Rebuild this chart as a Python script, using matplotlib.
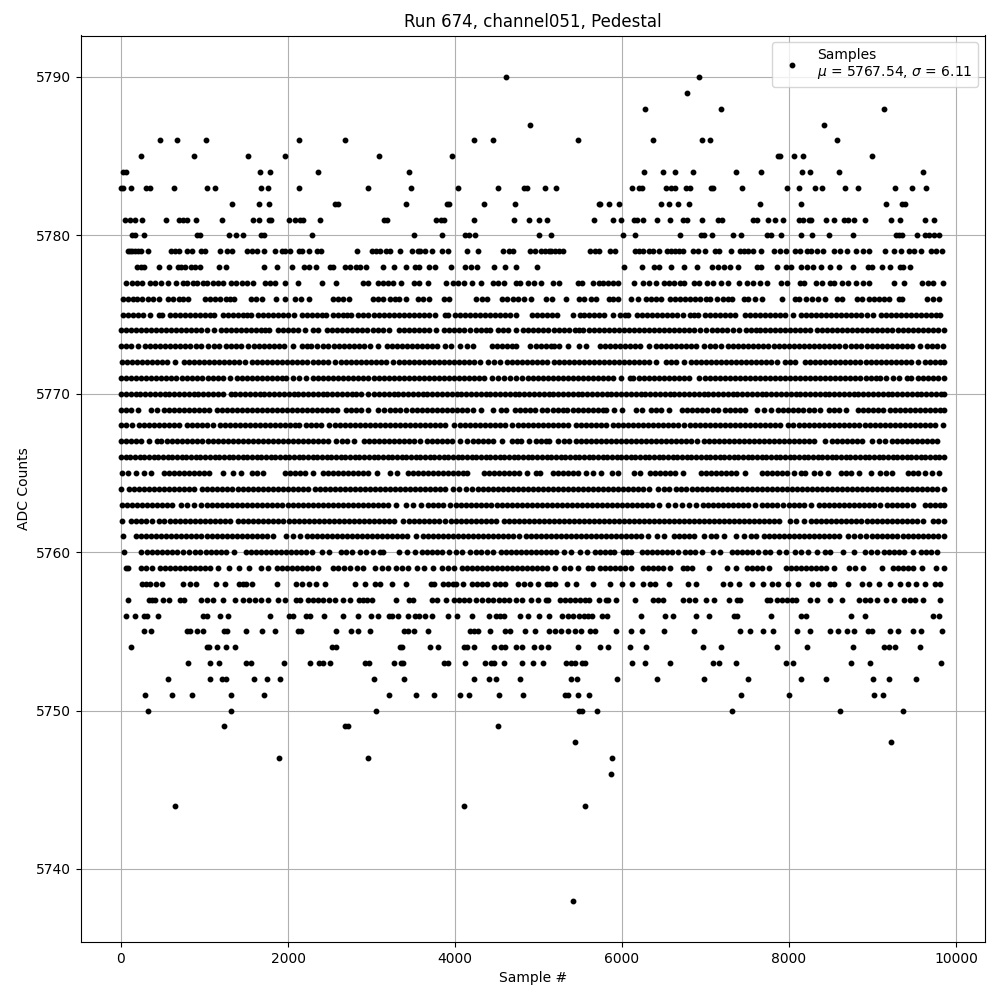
import matplotlib
matplotlib.use("Agg")
import matplotlib.pyplot as plt

title = "Run 674, channel051, Pedestal"
legend_label = "Samples\n$\\mu$ = 5767.54, $\\sigma$ = 6.11"

s5790 = [4616, 6924]
s5789 = [6780]
s5788 = [6276, 7188, 9132]
s5787 = [4904, 8424]
s5786 = [464, 668, 1016, 2132, 2684, 4232, 4460, 5472, 6372, 6960, 7056, 8580]
s5785 = [236, 872, 1520, 1964, 3092, 3968, 7868, 7896, 8064, 8172, 8988]
s5784 = [24, 56, 1664, 1784, 2360, 3452, 6264, 6492, 6636, 6852, 7368, 7668, 8160, 8256, 8604, 9600]
s5783 = [0, 20, 116, 296, 344, 632, 1028, 1124, 1676, 1760, 2128, 2960, 3476, 4040, 4520, 4832, 4868, 5076, 5208, 6120, 6204, 6240, 6528, 6588, 6636, 6768, 6816, 7068, 7092, 7440, 7980, 8124, 8316, 8400, 8676, 8832, 9264, 9468, 9636]
s5782 = [1328, 1652, 1772, 2564, 2600, 3416, 3908, 3932, 4352, 4724, 5724, 5736, 5844, 5964, 6468, 6564, 6672, 6804, 7656, 8148, 9156, 9348, 9384]
s5781 = [44, 104, 164, 248, 536, 692, 740, 788, 896, 1208, 1580, 1652, 1772, 1796, 2012, 2084, 2144, 2180, 2384, 3152, 3188, 3776, 3836, 3872, 4232, 4712, 4892, 5000, 5100, 5664, 5892, 5988, 6144, 6180, 6252, 6420, 6576, 6732, 6780, 6960, 7152, 7200, 7572, 7620, 7752, 7836, 7932, 8124, 8172, 8244, 8268, 8448, 8544, 8664, 8712, 8784, 8904, 9216, 9324, 9624, 9732]
s5780 = [128, 164, 272, 908, 944, 1292, 1376, 1456, 1676, 1712, 2288, 3512, 3848, 4124, 4172, 4244, 5000, 5148, 6012, 6156, 6696, 6948, 6984, 7080, 7332, 7428, 7740, 7788, 7908, 8148, 8280, 8484, 8772, 9276, 9312, 9348, 9528, 9624, 9672, 9732, 9792]
s5779 = [80, 104, 128, 164, 200, 236, 320, 596, 644, 692, 788, 848, 956, 1004, 1184, 1268, 1328, 1508, 1568, 1628, 1712, 1844, 1928, 1964, 2024, 2132, 2168, 2252, 2348, 2396, 2828, 3008, 3056, 3104, 3176, 3224, 3344, 3488, 3560, 3584, 3644, 3728, 3848, 3920, 4140, 4280, 4580, 4652, 4700, 4904, 4952, 5024, 5072, 5120, 5144, 5192, 5240, 5288, 5616, 5676, 5724, 5856, 5916, 6156, 6204, 6252, 6324, 6372, 6444, 6540, 6588, 6636, 6684, 6732, 6852, 6912, 6996, 7116, 7164, 7308, 7416, 7464, 7512, 7572, 7668, 7824, 7896, 7968, 8076, 8136, 8220, 8268, 8340, 8412, 8544, 8616, 8700, 8808, 8880, 8952, 9144, 9252, 9336, 9432, 9492, 9576, 9696, 9756, 9828]
s5778 = [188, 236, 272, 452, 572, 680, 716, 764, 836, 884, 944, 1172, 1256, 1712, 1868, 2048, 2192, 2252, 2336, 2504, 2540, 2684, 2744, 2816, 2864, 2936, 3140, 3272, 3416, 3524, 3572, 3692, 3764, 3956, 4124, 4196, 4268, 4472, 4604, 4736, 4976, 6024, 6240, 6384, 6444, 6588, 6744, 6900, 7080, 7152, 7224, 7296, 7392, 7620, 7668, 7860, 7968, 8028, 8148, 8220, 8292, 8388, 8496, 8604, 8772, 8940, 8988, 9108, 9204, 9324, 9360, 9444]
s5777 = [56, 128, 188, 248, 344, 404, 476, 560, 656, 740, 788, 860, 908, 980, 1028, 1100, 1160, 1220, 1316, 1376, 1448, 1508, 1580, 1724, 1784, 1844, 1964, 2120, 2408, 2576, 2900, 2960, 3080, 3140, 3200, 3260, 3356, 3512, 3572, 3680, 3896, 3980, 4040, 4112, 4208, 4316, 4460, 4520, 4592, 4736, 4784, 4880, 4940, 5028, 5172, 5244, 5472, 5520, 5652, 5724, 5772, 5832, 5892, 5952, 6144, 6252, 6324, 6408, 6504, 6564, 6624, 6696, 6744, 6864, 6924, 7020, 7092, 7188, 7272, 7404, 7500, 7572, 7656, 7740, 7908, 7980, 8136, 8184, 8328, 8400, 8496, 8544, 8640, 8712, 8808, 8880, 8952, 9252, 9372, 9588, 9660, 9720, 9850]
s5776 = [28, 84, 140, 188, 248, 320, 380, 452, 568, 628, 692, 748, 800, 1000, 1060, 1120, 1188, 1252, 1308, 1352, 1560, 1620, 1688, 1860, 1960, 2088, 2152, 2252, 2540, 2600, 2660, 2732, 3020, 3080, 3140, 3220, 3280, 3328, 3408, 3560, 3612, 3688, 3872, 3928, 4248, 4328, 4388, 4568, 4628, 4700, 4760, 4828, 4912, 5088, 5160, 5324, 5480, 5544, 5632, 5684, 5844, 5892, 5956, 6112, 6192, 6292, 6352, 6412, 6472, 6572, 6632, 6692, 6752, 6812, 6872, 6932, 7000, 7052, 7132, 7204, 7272, 7312, 7460, 7512, 7592, 7672, 7912, 8072, 8124, 8200, 8280, 8352, 8432, 8572, 8632, 8812, 8872, 8952, 9012, 9072, 9132, 9200, 9312, 9352, 9652, 9724, 9792]
s5775 = [24, 84, 148, 204, 268, 348, 452, 496, 584, 644, 704, 764, 824, 884, 944, 1004, 1064, 1116, 1224, 1284, 1344, 1404, 1464, 1510, 1556, 1644, 1704, 1764, 1824, 1884, 1944, 2004, 2076, 2164, 2224, 2284, 2344, 2404, 2456, 2544, 2604, 2664, 2710, 2756, 2844, 2904, 2964, 3024, 3084, 3144, 3204, 3264, 3324, 3384, 3444, 3504, 3564, 3624, 3684, 3756, 3884, 3916, 4004, 4064, 4124, 4184, 4244, 4304, 4364, 4424, 4484, 4544, 4604, 4664, 4736, 4924, 4984, 5044, 5104, 5164, 5224, 5416, 5496, 5548, 5608, 5668, 5728, 5788, 5888, 5976, 6036, 6076, 6176, 6236, 6296, 6356, 6416, 6476, 6536, 6596, 6656, 6728, 6816, 6868, 6908, 6996, 7056, 7116, 7176, 7236, 7296, 7348, 7476, 7536, 7596, 7656, 7716, 7776, 7836, 7896, 7956, 8048, 8148, 8208, 8268, 8328, 8388, 8448, 8508, 8568, 8628, 8688, 8748, 8808, 8868, 8928, 9008, 9096, 9156, 9216, 9276, 9336, 9396, 9456, 9516, 9576, 9636, 9696, 9756, 9808]
s5774 = [0, 60, 124, 184, 244, 304, 364, 424, 484, 544, 604, 664, 724, 784, 844, 904, 964, 1024, 1108, 1192, 1252, 1312, 1372, 1432, 1492, 1552, 1612, 1672, 1724, 1776, 1884, 1944, 2004, 2064, 2124, 2204, 2304, 2364, 2472, 2532, 2592, 2652, 2712, 2772, 2832, 2892, 2952, 3012, 3072, 3132, 3204, 3324, 3384, 3444, 3504, 3564, 3624, 3684, 3776, 3864, 3924, 3984, 4044, 4104, 4176, 4252, 4312, 4372, 4416, 4516, 4576, 4636, 4736, 4816, 4876, 4936, 4996, 5056, 5108, 5188, 5248, 5308, 5368, 5436, 5484, 5528, 5608, 5668, 5728, 5788, 5848, 5908, 5968, 6028, 6088, 6148, 6208, 6268, 6328, 6388, 6448, 6508, 6568, 6628, 6688, 6748, 6808, 6868, 6928, 7008, 7076, 7136, 7196, 7256, 7328, 7404, 7484, 7544, 7604, 7648, 7716, 7776, 7836, 7896, 7956, 8016, 8076, 8136, 8196, 8248, 8336, 8396, 8456, 8516, 8576, 8636, 8696, 8756, 8816, 8876, 8936, 8996, 9056, 9116, 9176, 9236, 9300, 9368, 9428, 9488, 9548, 9608, 9668, 9728, 9788, 9856]
s5773 = [0, 60, 124, 204, 292, 352, 412, 472, 532, 592, 652, 712, 772, 832, 896, 964, 1036, 1112, 1176, 1252, 1312, 1372, 1432, 1516, 1592, 1652, 1712, 1772, 1832, 1892, 1952, 2056, 2164, 2224, 2276, 2344, 2416, 2476, 2556, 2616, 2676, 2736, 2796, 2856, 2916, 2976, 3076, 3184, 3244, 3304, 3364, 3424, 3484, 3544, 3604, 3664, 3724, 3784, 3876, 3956, 4056, 4144, 4216, 4444, 4504, 4564, 4624, 4684, 4736, 4904, 4964, 5024, 5084, 5144, 5188, 5248, 5348, 5484, 5568, 5736, 5796, 5856, 5916, 5976, 6036, 6096, 6156, 6216, 6328, 6404, 6464, 6524, 6584, 6644, 6704, 6764, 6824, 6884, 6976, 7048, 7108, 7188, 7268, 7328, 7388, 7448, 7508, 7568, 7628, 7688, 7748, 7816, 7876, 7936, 7996, 8056, 8116, 8176, 8236, 8296, 8356, 8416, 8476, 8536, 8596, 8668, 8744, 8804, 8860, 8936, 8996, 9056, 9116, 9176, 9236, 9296, 9356, 9416, 9476, 9568, 9656, 9716, 9776, 9848]
s5772 = [12, 72, 132, 192, 252, 312, 372, 432, 492, 552, 644, 752, 812, 872, 932, 992, 1052, 1112, 1172, 1232, 1292, 1352, 1412, 1484, 1572, 1632, 1692, 1752, 1812, 1872, 1932, 1992, 2052, 2112, 2172, 2232, 2296, 2364, 2424, 2484, 2564, 2636, 2696, 2756, 2816, 2876, 2936, 2996, 3056, 3116, 3176, 3256, 3332, 3392, 3452, 3512, 3572, 3632, 3692, 3752, 3812, 3872, 3932, 3992, 4052, 4112, 4172, 4232, 4296, 4396, 4464, 4536, 4624, 4684, 4744, 4804, 4864, 4924, 4984, 5044, 5104, 5180, 5244, 5304, 5364, 5424, 5484, 5544, 5604, 5664, 5724, 5784, 5844, 5904, 5964, 6024, 6084, 6144, 6204, 6264, 6324, 6408, 6524, 6584, 6644, 6748, 6824, 6884, 6944, 7004, 7064, 7124, 7184, 7244, 7304, 7364, 7424, 7484, 7544, 7604, 7664, 7724, 7784, 7852, 7956, 8016, 8076, 8188, 8256, 8316, 8376, 8436, 8496, 8556, 8616, 8676, 8736, 8796, 8856, 8916, 8976, 9036, 9096, 9156, 9216, 9276, 9336, 9396, 9456, 9548, 9624, 9684, 9744, 9804, 9860]
s5771 = [0, 60, 120, 180, 240, 300, 360, 420, 480, 540, 600, 660, 728, 796, 856, 916, 976, 1036, 1096, 1156, 1216, 1308, 1384, 1444, 1504, 1564, 1624, 1684, 1744, 1804, 1864, 1924, 1976, 2056, 2136, 2216, 2304, 2364, 2424, 2484, 2544, 2604, 2664, 2724, 2784, 2844, 2904, 2964, 3024, 3084, 3144, 3204, 3264, 3324, 3384, 3444, 3504, 3564, 3624, 3684, 3744, 3804, 3864, 3924, 3984, 4044, 4104, 4164, 4224, 4284, 4348, 4444, 4516, 4588, 4664, 4736, 4804, 4876, 4936, 4996, 5056, 5116, 5176, 5236, 5296, 5356, 5416, 5476, 5536, 5596, 5656, 5716, 5776, 5836, 5896, 5988, 6096, 6128, 6204, 6264, 6324, 6384, 6444, 6504, 6564, 6624, 6684, 6744, 6804, 6916, 6996, 7056, 7116, 7176, 7236, 7296, 7356, 7416, 7476, 7536, 7596, 7656, 7716, 7776, 7836, 7896, 7956, 8016, 8076, 8136, 8196, 8256, 8316, 8376, 8436, 8496, 8556, 8616, 8676, 8736, 8796, 8856, 8916, 8976, 9036, 9088, 9164, 9240, 9316, 9408, 9460, 9548, 9608, 9668, 9728, 9788, 9856]
s5770 = [0, 58, 116, 174, 232, 290, 348, 406, 464, 522, 580, 638, 696, 754, 812, 870, 928, 986, 1044, 1102, 1160, 1216, 1312, 1370, 1428, 1486, 1544, 1602, 1660, 1718, 1776, 1834, 1892, 1950, 2008, 2066, 2124, 2182, 2240, 2298, 2356, 2414, 2472, 2530, 2588, 2646, 2704, 2762, 2820, 2878, 2956, 3032, 3090, 3148, 3206, 3264, 3322, 3380, 3438, 3496, 3554, 3612, 3670, 3728, 3786, 3844, 3902, 3960, 4018, 4076, 4134, 4192, 4250, 4308, 4366, 4424, 4482, 4540, 4598, 4656, 4714, 4772, 4830, 4888, 4946, 5004, 5062, 5120, 5178, 5236, 5294, 5352, 5410, 5468, 5526, 5584, 5642, 5700, 5758, 5816, 5874, 5932, 5990, 6048, 6106, 6164, 6222, 6280, 6338, 6396, 6454, 6512, 6570, 6628, 6686, 6744, 6802, 6860, 6918, 6976, 7034, 7092, 7150, 7208, 7266, 7324, 7382, 7440, 7498, 7556, 7614, 7672, 7730, 7788, 7846, 7904, 7962, 8020, 8078, 8136, 8194, 8252, 8310, 8368, 8426, 8484, 8542, 8600, 8658, 8716, 8774, 8832, 8890, 8948, 9006, 9064, 9122, 9180, 9238, 9296, 9354, 9412, 9470, 9528, 9586, 9644, 9702, 9760, 9818, 9856]
s5769 = [0, 60, 124, 204, 356, 436, 512, 572, 632, 692, 752, 812, 872, 932, 992, 1056, 1152, 1212, 1272, 1332, 1392, 1452, 1512, 1572, 1632, 1692, 1752, 1812, 1872, 1932, 1992, 2052, 2112, 2172, 2232, 2292, 2352, 2412, 2472, 2532, 2588, 2692, 2752, 2812, 2872, 2964, 3076, 3148, 3224, 3284, 3344, 3408, 3484, 3544, 3604, 3664, 3724, 3784, 3844, 3904, 3964, 4024, 4084, 4144, 4216, 4308, 4456, 4556, 4616, 4716, 4776, 4836, 4896, 4956, 5044, 5100, 5168, 5228, 5288, 5340, 5412, 5472, 5532, 5592, 5652, 5712, 5772, 5808, 5908, 5996, 6164, 6236, 6344, 6404, 6464, 6568, 6716, 6776, 6836, 6896, 6956, 7016, 7088, 7148, 7228, 7288, 7348, 7408, 7468, 7616, 7700, 7788, 7868, 7928, 7988, 8048, 8108, 8168, 8244, 8304, 8368, 8476, 8536, 8596, 8688, 8828, 8888, 8948, 9008, 9068, 9128, 9208, 9268, 9328, 9388, 9448, 9508, 9568, 9628, 9688, 9748, 9808, 9860]
s5768 = [4, 64, 136, 212, 272, 332, 392, 452, 512, 572, 632, 692, 788, 852, 912, 972, 1032, 1096, 1184, 1244, 1304, 1364, 1424, 1484, 1544, 1604, 1664, 1724, 1784, 1844, 1904, 1964, 2024, 2084, 2136, 2212, 2272, 2332, 2392, 2496, 2564, 2624, 2684, 2744, 2804, 2864, 2924, 2984, 3044, 3104, 3164, 3224, 3284, 3344, 3404, 3464, 3524, 3584, 3644, 3704, 3764, 3824, 3884, 3988, 4064, 4124, 4184, 4244, 4304, 4364, 4424, 4484, 4544, 4604, 4684, 4756, 4816, 4876, 4936, 4996, 5056, 5116, 5176, 5236, 5296, 5356, 5448, 5508, 5568, 5628, 5688, 5748, 5808, 5888, 5948, 6008, 6068, 6128, 6188, 6248, 6308, 6368, 6428, 6488, 6548, 6608, 6668, 6748, 6816, 6876, 6936, 6996, 7056, 7116, 7176, 7236, 7296, 7356, 7416, 7476, 7536, 7596, 7656, 7716, 7776, 7836, 7896, 7988, 8052, 8124, 8184, 8244, 8304, 8364, 8424, 8484, 8544, 8604, 8664, 8724, 8784, 8844, 8904, 8964, 9024, 9084, 9144, 9204, 9264, 9324, 9384, 9444, 9504, 9564, 9624, 9684, 9744, 9848]
s5767 = [4, 64, 124, 184, 244, 336, 432, 476, 556, 616, 676, 736, 796, 856, 916, 976, 1036, 1096, 1156, 1216, 1276, 1336, 1396, 1456, 1516, 1576, 1636, 1696, 1756, 1816, 1876, 1936, 1996, 2056, 2116, 2176, 2236, 2296, 2356, 2416, 2476, 2576, 2652, 2712, 2796, 2912, 2972, 3032, 3092, 3152, 3212, 3272, 3332, 3392, 3452, 3512, 3576, 3664, 3724, 3784, 3844, 3904, 3964, 4056, 4144, 4216, 4276, 4336, 4396, 4456, 4560, 4684, 4740, 4796, 4884, 4972, 5032, 5092, 5128, 5228, 5300, 5368, 5448, 5508, 5568, 5628, 5688, 5748, 5808, 5868, 5928, 5988, 6048, 6108, 6168, 6228, 6288, 6348, 6408, 6468, 6528, 6588, 6648, 6708, 6768, 6828, 6900, 6984, 7044, 7104, 7164, 7224, 7284, 7344, 7404, 7464, 7524, 7584, 7644, 7704, 7764, 7824, 7884, 7944, 8004, 8064, 8124, 8184, 8244, 8304, 8428, 8516, 8576, 8636, 8696, 8756, 8816, 8876, 8988, 9076, 9148, 9236, 9296, 9356, 9416, 9476, 9536, 9596, 9656, 9716, 9768]
s5766 = [0, 56, 112, 168, 224, 280, 336, 392, 448, 504, 560, 616, 672, 728, 784, 840, 896, 952, 1008, 1064, 1120, 1176, 1232, 1288, 1344, 1400, 1456, 1512, 1568, 1624, 1680, 1736, 1792, 1848, 1904, 1960, 2016, 2072, 2128, 2184, 2240, 2296, 2352, 2408, 2464, 2520, 2576, 2632, 2688, 2744, 2800, 2856, 2912, 2968, 3024, 3080, 3136, 3192, 3248, 3304, 3360, 3416, 3472, 3528, 3584, 3640, 3696, 3752, 3808, 3864, 3920, 3976, 4032, 4088, 4144, 4200, 4256, 4312, 4368, 4424, 4480, 4536, 4592, 4648, 4704, 4760, 4816, 4872, 4928, 4984, 5040, 5096, 5152, 5208, 5264, 5320, 5376, 5432, 5488, 5544, 5600, 5656, 5712, 5768, 5824, 5880, 5936, 5992, 6048, 6104, 6160, 6216, 6272, 6328, 6384, 6440, 6496, 6552, 6608, 6664, 6720, 6776, 6832, 6888, 6944, 7000, 7056, 7112, 7168, 7224, 7280, 7336, 7392, 7448, 7504, 7560, 7616, 7672, 7728, 7784, 7840, 7896, 7952, 8008, 8064, 8120, 8176, 8232, 8288, 8344, 8400, 8456, 8512, 8568, 8624, 8680, 8736, 8792, 8848, 8904, 8960, 9016, 9072, 9128, 9184, 9240, 9296, 9352, 9408, 9464, 9520, 9576, 9632, 9688, 9744, 9800, 9856]
s5765 = [12, 84, 184, 276, 364, 516, 576, 636, 696, 756, 816, 876, 936, 996, 1056, 1220, 1344, 1436, 1564, 1634, 1704, 1964, 2024, 2084, 2144, 2208, 2304, 2424, 2484, 2544, 2604, 2664, 2724, 2784, 2844, 2904, 2964, 3068, 3216, 3308, 3432, 3492, 3552, 3612, 3672, 3732, 3792, 3852, 3912, 3972, 4032, 4092, 4144, 4344, 4404, 4464, 4524, 4584, 4644, 4704, 4764, 4864, 4964, 5016, 5168, 5228, 5288, 5348, 5408, 5468, 5568, 5656, 5748, 5884, 5948, 6148, 6220, 6336, 6396, 6456, 6516, 6576, 6636, 6736, 6948, 7008, 7068, 7128, 7188, 7248, 7308, 7368, 7476, 7676, 7736, 7796, 7856, 7916, 7976, 8060, 8148, 8196, 8296, 8376, 8472, 8624, 8684, 8744, 8836, 8984, 9088, 9160, 9236, 9428, 9484, 9540, 9628, 9712, 9796]
s5764 = [0, 96, 156, 216, 276, 336, 396, 456, 516, 576, 636, 696, 756, 816, 876, 972, 1032, 1092, 1152, 1212, 1272, 1332, 1396, 1460, 1520, 1580, 1640, 1700, 1760, 1820, 1880, 1940, 2000, 2060, 2120, 2180, 2244, 2324, 2384, 2444, 2504, 2564, 2624, 2684, 2744, 2804, 2864, 2924, 2984, 3044, 3104, 3164, 3224, 3284, 3344, 3404, 3464, 3524, 3584, 3644, 3704, 3764, 3824, 3884, 3976, 4052, 4130, 4204, 4272, 4332, 4392, 4452, 4512, 4572, 4632, 4692, 4752, 4812, 4872, 4932, 4992, 5052, 5112, 5172, 5232, 5292, 5352, 5412, 5472, 5532, 5592, 5652, 5712, 5772, 5832, 5892, 5952, 6012, 6072, 6132, 6192, 6252, 6328, 6428, 6500, 6568, 6648, 6708, 6768, 6836, 6896, 6956, 7016, 7076, 7136, 7196, 7256, 7316, 7376, 7436, 7496, 7556, 7616, 7676, 7736, 7796, 7856, 7916, 7976, 8036, 8096, 8156, 8216, 8276, 8336, 8396, 8456, 8516, 8576, 8636, 8696, 8756, 8816, 8876, 8936, 8996, 9056, 9116, 9176, 9236, 9296, 9356, 9416, 9476, 9536, 9596, 9656, 9716, 9776, 9860]
s5763 = [12, 72, 132, 192, 252, 312, 372, 432, 492, 552, 612, 716, 796, 876, 956, 1024, 1084, 1144, 1204, 1264, 1324, 1384, 1444, 1504, 1564, 1624, 1684, 1744, 1804, 1864, 1924, 1996, 2064, 2124, 2184, 2244, 2304, 2364, 2424, 2484, 2544, 2604, 2664, 2724, 2784, 2836, 2896, 2956, 3016, 3076, 3136, 3196, 3296, 3412, 3500, 3588, 3676, 3736, 3796, 3856, 3936, 4012, 4072, 4132, 4192, 4252, 4312, 4372, 4436, 4504, 4564, 4624, 4684, 4744, 4804, 4864, 4924, 4984, 5044, 5104, 5164, 5224, 5284, 5344, 5404, 5464, 5524, 5584, 5644, 5704, 5764, 5824, 5884, 5944, 6004, 6064, 6124, 6184, 6244, 6304, 6364, 6448, 6556, 6636, 6716, 6800, 6888, 6968, 7028, 7088, 7148, 7208, 7268, 7328, 7388, 7448, 7508, 7588, 7676, 7736, 7796, 7856, 7928, 8004, 8064, 8124, 8184, 8260, 8356, 8416, 8476, 8536, 8596, 8656, 8716, 8776, 8836, 8896, 8956, 9016, 9088, 9176, 9236, 9296, 9356, 9416, 9488, 9624, 9684, 9744, 9804, 9860]
s5762 = [12, 116, 176, 236, 296, 368, 452, 516, 584, 644, 704, 764, 824, 884, 944, 1004, 1064, 1124, 1184, 1244, 1304, 1396, 1464, 1524, 1584, 1644, 1704, 1764, 1824, 1884, 1936, 2012, 2072, 2132, 2192, 2252, 2312, 2372, 2432, 2492, 2552, 2612, 2672, 2732, 2792, 2852, 2912, 2972, 3032, 3092, 3152, 3212, 3272, 3376, 3444, 3504, 3564, 3624, 3684, 3744, 3804, 3876, 3956, 4016, 4076, 4136, 4196, 4256, 4316, 4376, 4436, 4496, 4584, 4644, 4704, 4764, 4824, 4884, 4944, 5004, 5064, 5124, 5184, 5244, 5304, 5364, 5424, 5484, 5544, 5604, 5664, 5724, 5784, 5844, 5904, 5964, 6024, 6084, 6144, 6204, 6264, 6324, 6384, 6444, 6504, 6564, 6624, 6684, 6744, 6804, 6864, 6924, 6984, 7044, 7104, 7164, 7224, 7284, 7344, 7404, 7464, 7524, 7584, 7644, 7704, 7764, 7824, 7884, 8008, 8088, 8180, 8268, 8328, 8388, 8448, 8508, 8568, 8628, 8688, 8748, 8808, 8868, 8928, 8988, 9048, 9108, 9168, 9228, 9288, 9348, 9408, 9468, 9528, 9608, 9724, 9790, 9860]
s5761 = [20, 184, 244, 304, 364, 424, 484, 544, 604, 664, 724, 784, 844, 904, 964, 1024, 1084, 1144, 1204, 1264, 1324, 1384, 1444, 1504, 1564, 1624, 1684, 1744, 1816, 1972, 2060, 2148, 2224, 2284, 2344, 2404, 2464, 2524, 2584, 2644, 2704, 2764, 2824, 2884, 2944, 3004, 3064, 3124, 3184, 3244, 3304, 3364, 3424, 3536, 3616, 3676, 3736, 3796, 3856, 3916, 3976, 4036, 4096, 4156, 4216, 4276, 4336, 4396, 4456, 4516, 4576, 4636, 4696, 4764, 4852, 4912, 4972, 5032, 5092, 5152, 5212, 5272, 5332, 5392, 5452, 5512, 5572, 5632, 5692, 5752, 5812, 5872, 5932, 5992, 6052, 6112, 6172, 6232, 6308, 6416, 6508, 6624, 6684, 6744, 6804, 6864, 6976, 7064, 7120, 7224, 7364, 7460, 7548, 7608, 7700, 7760, 7820, 7880, 7940, 8000, 8060, 8120, 8180, 8240, 8300, 8360, 8420, 8480, 8540, 8600, 8708, 8784, 8856, 8916, 8996, 9056, 9116, 9176, 9236, 9288, 9368, 9428, 9488, 9548, 9608, 9668, 9728, 9788, 9860]
s5760 = [32, 240, 312, 372, 432, 492, 552, 612, 668, 744, 816, 892, 952, 1012, 1072, 1132, 1192, 1256, 1352, 1492, 1552, 1612, 1672, 1732, 1792, 1852, 1916, 1972, 2032, 2092, 2152, 2212, 2284, 2404, 2496, 2632, 2700, 2764, 2864, 2936, 3020, 3104, 3136, 3328, 3424, 3516, 3604, 3664, 3724, 3784, 3844, 3932, 4012, 4084, 4184, 4250, 4316, 4384, 4456, 4552, 4612, 4672, 4732, 4792, 4852, 4912, 4972, 5032, 5092, 5152, 5212, 5300, 5392, 5496, 5580, 5676, 5736, 5796, 5856, 5900, 6008, 6060, 6108, 6236, 6296, 6356, 6416, 6476, 6536, 6596, 6668, 6756, 6816, 6876, 6956, 7088, 7172, 7316, 7376, 7436, 7496, 7556, 7628, 7716, 7776, 7876, 7968, 8076, 8148, 8232, 8336, 8436, 8488, 8652, 8784, 8908, 8980, 9056, 9140, 9200, 9260, 9320, 9380, 9488, 9576, 9640, 9700, 9768]
s5759 = [56, 88, 244, 296, 368, 464, 524, 584, 644, 704, 764, 824, 884, 944, 1004, 1064, 1164, 1292, 1416, 1532, 1680, 1760, 1864, 1924, 1984, 2044, 2104, 2164, 2224, 2284, 2364, 2536, 2596, 2672, 2740, 2832, 2896, 3044, 3124, 3200, 3292, 3364, 3436, 3548, 3632, 3740, 3844, 3916, 3988, 4080, 4144, 4204, 4264, 4324, 4384, 4444, 4504, 4564, 4624, 4684, 4744, 4804, 4864, 4924, 4984, 5044, 5104, 5196, 5308, 5372, 5476, 5596, 5636, 5736, 5796, 5856, 5916, 5976, 6036, 6108, 6248, 6308, 6368, 6428, 6488, 6580, 6728, 6784, 6840, 7044, 7252, 7364, 7496, 7560, 7620, 7680, 7756, 7968, 8028, 8088, 8148, 8208, 8268, 8328, 8388, 8448, 8540, 8716, 8796, 8880, 9112, 9248, 9308, 9368, 9428, 9488, 9596, 9764, 9856]
s5758 = [252, 300, 348, 420, 488, 740, 828, 900, 1136, 1240, 1412, 1460, 1500, 1568, 1868, 2096, 2168, 2252, 2332, 2440, 2804, 2924, 3044, 3104, 3248, 3416, 3708, 3752, 3852, 3912, 3972, 4012, 4100, 4208, 4268, 4328, 4388, 4476, 4540, 4600, 4760, 4828, 4900, 4988, 5100, 5132, 5192, 5340, 5448, 5652, 5856, 6000, 6120, 6252, 6332, 6392, 6564, 6792, 6884, 7204, 7292, 7404, 7560, 7692, 7792, 7872, 7992, 8112, 8272, 8352, 8492, 8544, 8712, 8872, 8952, 9072, 9212, 9324, 9420, 9524, 9624, 9752, 9812]
s5757 = [88, 332, 368, 404, 500, 572, 704, 752, 956, 1028, 1100, 1220, 1364, 1460, 1532, 1604, 1676, 1760, 1880, 1964, 2096, 2144, 2240, 2300, 2360, 2420, 2492, 2564, 2660, 2744, 2852, 2900, 2948, 3008, 3296, 3452, 3500, 3728, 3788, 3896, 3992, 4052, 4112, 4172, 4256, 4328, 4400, 4460, 4532, 4592, 4652, 4736, 4808, 4916, 4988, 5084, 5108, 5252, 5312, 5372, 5432, 5492, 5552, 5604, 5724, 5804, 5832, 5928, 6152, 6372, 6432, 6492, 6732, 6800, 6872, 7000, 7100, 7284, 7372, 7412, 7732, 7772, 7860, 7912, 7972, 8032, 8084, 8252, 8332, 8496, 8640, 8844, 8912, 8972, 9052, 9156, 9252, 9380, 9444, 9512, 9604, 9804]
s5756 = [56, 164, 272, 308, 440, 980, 1028, 1184, 1280, 1784, 2012, 2060, 2216, 2264, 2432, 2660, 2840, 2996, 3080, 3212, 3248, 3320, 3440, 3524, 3572, 3644, 3728, 3920, 4028, 4208, 4412, 4496, 4544, 4592, 4784, 4880, 5000, 5124, 5276, 5352, 5412, 5484, 5540, 5592, 5644, 5764, 5824, 6232, 6520, 6612, 6888, 7044, 7340, 7372, 7784, 8140, 8204, 8748, 8912, 9724, 9792]
s5755 = [272, 356, 788, 824, 908, 980, 1232, 1268, 1496, 1688, 1844, 2120, 2156, 2576, 2756, 2840, 2980, 3392, 3440, 3512, 3680, 4184, 4232, 4280, 4424, 4604, 4664, 4844, 4956, 5120, 5192, 5272, 5352, 5432, 5512, 5612, 5672, 5924, 6112, 6240, 6504, 6864, 7416, 7536, 7684, 7812, 8096, 8252, 8496, 8592, 8692, 8784, 8940, 8996, 9204, 9300, 9480, 9584, 9828]
s5754 = [116, 1028, 1052, 1148, 1256, 1364, 2528, 2576, 3344, 3368, 3704, 3800, 4112, 4148, 4232, 4472, 4556, 4604, 4736, 4808, 4940, 5024, 5108, 5472, 5736, 5832, 6100, 6288, 6972, 7188, 7860, 8220, 8772, 9132, 9192, 9264, 9564]
s5753 = [800, 1064, 1172, 1496, 1556, 1952, 2264, 2372, 2420, 2504, 2924, 2972, 3272, 3356, 3380, 3872, 3920, 4124, 4364, 4436, 4472, 4592, 4808, 4932, 5052, 5328, 5392, 5436, 5520, 5556, 6120, 6276, 6576, 7092, 7164, 7368, 7968, 8052, 8748, 8964, 9816]
s5752 = [560, 1064, 1208, 1256, 1592, 1748, 1904, 3032, 3392, 4232, 4412, 4496, 4784, 5392, 5460, 5940, 6420, 6984, 7512, 8148, 8448, 9000, 9192, 9516]
s5751 = [284, 608, 848, 1316, 1712, 3212, 3536, 3752, 4064, 4172, 4532, 4820, 5312, 5352, 5472, 5604, 7428, 8004, 9012, 9120]
s5750 = [320, 1316, 3056, 5484, 5524, 5700, 7320, 8616, 9360]
s5749 = [1232, 2684, 2720, 4520]
s5748 = [5440, 9216]
s5747 = [1892, 2960, 5880]
s5746 = [5868]
s5744 = [644, 4112, 5556]
s5738 = [5413]

rows = {5790: s5790, 5789: s5789, 5788: s5788, 5787: s5787, 5786: s5786, 5785: s5785,
        5784: s5784, 5783: s5783, 5782: s5782, 5781: s5781, 5780: s5780, 5779: s5779,
        5778: s5778, 5777: s5777, 5776: s5776, 5775: s5775, 5774: s5774, 5773: s5773,
        5772: s5772, 5771: s5771, 5770: s5770, 5769: s5769, 5768: s5768, 5767: s5767,
        5766: s5766, 5765: s5765, 5764: s5764, 5763: s5763, 5762: s5762, 5761: s5761,
        5760: s5760, 5759: s5759, 5758: s5758, 5757: s5757, 5756: s5756, 5755: s5755,
        5754: s5754, 5753: s5753, 5752: s5752, 5751: s5751, 5750: s5750, 5749: s5749,
        5748: s5748, 5747: s5747, 5746: s5746, 5744: s5744, 5738: s5738}

sample_x = []
sample_y = []
for level, xs in rows.items():
    sample_x.extend(xs)
    sample_y.extend([level] * len(xs))

fig, ax = plt.subplots(figsize=(10, 10), dpi=100)
ax.plot(sample_x, sample_y, "k.", markersize=6.3, markeredgewidth=1.05, label=legend_label)
ax.set_title(title)
ax.set_xlabel("Sample #")
ax.set_ylabel("ADC Counts")
ax.grid(True)
ax.set_xlim(-479, 10347)
ax.set_ylim(5735.39, 5792.62)
ax.legend(loc="upper right")
fig.subplots_adjust(left=0.081, right=0.985, top=0.9645, bottom=0.058)
fig.savefig("out.png", dpi=100)
